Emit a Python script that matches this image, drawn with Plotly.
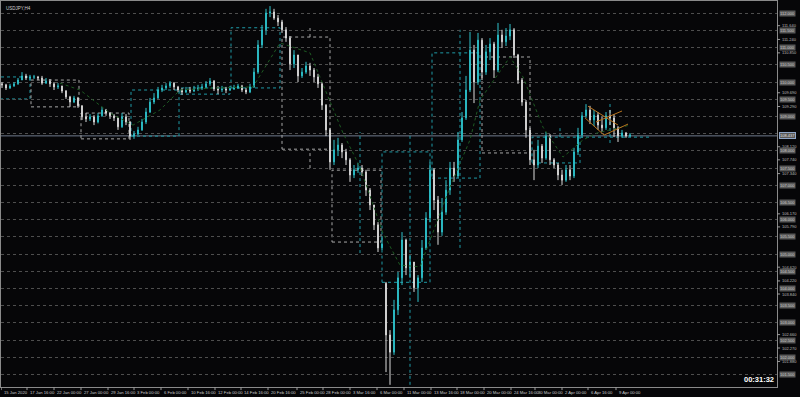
import plotly.graph_objects as go

# ---------------- data (USDJPY, H4) ----------------
first_open = 109.95
close = [109.92, 109.83, 109.89, 109.95, 110.06, 110.18, 110.12, 110.15, 110.15, 110.12,
         109.97, 110.03, 109.95, 109.86, 109.89, 109.74, 109.57, 109.42, 109.54, 109.31,
         108.99, 108.93, 108.99, 108.84, 109.02, 109.19, 109.10, 109.02, 108.96, 108.70,
         108.99, 108.84, 108.43, 108.49, 108.61, 108.84, 109.13, 109.42, 109.54, 109.77,
         109.83, 109.89, 109.97, 109.86, 109.77, 109.71, 109.77, 109.74, 109.80, 109.83,
         109.86, 109.95, 110.03, 109.80, 109.77, 109.80, 109.77, 109.80, 109.83, 109.89,
         109.77, 109.71, 109.86, 110.29, 111.08, 111.52, 112.01, 112.04, 111.86, 111.75,
         111.52, 111.28, 110.53, 110.79, 110.18, 110.29, 110.47, 110.35, 110.15, 109.95,
         109.33, 108.61, 107.68, 108.03, 108.17, 107.97, 107.74, 107.30, 107.45, 107.50,
         107.39, 106.86, 106.43, 105.85, 105.18, 105.29, 102.65, 102.15, 103.38, 104.31,
         105.41, 104.60, 104.77, 104.02, 104.31, 105.18, 106.05, 107.45, 106.57, 105.64,
         106.22, 106.86, 107.50, 107.27, 108.32, 108.96, 109.77, 110.93, 110.00, 111.22,
         110.29, 110.88, 111.11, 110.35, 111.37, 111.17, 111.34, 111.52, 110.79, 110.06,
         109.42, 108.61, 107.74, 107.59, 108.14, 107.79, 108.43, 107.74, 107.59, 107.30,
         107.15, 107.45, 107.27, 107.97, 108.46, 109.02, 109.19, 108.90, 109.04, 108.75,
         108.67, 109.02, 108.96, 108.67, 108.43, 108.52, 108.43, 108.46]
high = [110.00, 109.95, 109.95, 110.00, 110.12, 110.29, 110.24, 110.21, 110.21, 110.18,
        110.18, 110.12, 110.09, 110.00, 109.97, 109.89, 109.77, 109.60, 109.60, 109.57,
        109.33, 109.10, 109.07, 109.04, 109.10, 109.28, 109.22, 109.13, 109.07, 108.99,
        109.10, 109.07, 108.87, 108.58, 108.70, 108.93, 109.25, 109.54, 109.68, 109.86,
        109.92, 109.97, 110.03, 110.00, 109.89, 109.83, 109.86, 109.86, 109.89, 109.92,
        109.95, 110.03, 110.12, 110.06, 109.89, 109.89, 109.86, 109.89, 109.92, 109.95,
        109.92, 109.83, 109.95, 110.41, 111.22, 111.66, 112.13, 112.21, 112.13, 111.95,
        111.81, 111.60, 111.34, 110.93, 110.79, 110.41, 110.59, 110.56, 110.41, 110.24,
        110.00, 109.36, 108.67, 108.32, 108.38, 108.23, 108.06, 107.79, 107.59, 107.65,
        107.59, 107.45, 106.92, 106.43, 105.93, 105.53, 104.19, 102.79, 103.67, 104.48,
        105.64, 105.45, 104.97, 104.77, 104.39, 105.41, 106.22, 107.68, 107.50, 106.69,
        106.63, 107.15, 107.68, 107.68, 108.55, 109.13, 110.18, 111.46, 111.08, 111.43,
        111.28, 111.08, 111.28, 111.17, 111.72, 111.52, 111.57, 111.69, 111.57, 110.82,
        110.12, 109.48, 108.67, 108.03, 108.32, 108.20, 108.55, 108.49, 107.79, 107.65,
        107.45, 107.59, 107.59, 108.09, 108.67, 109.13, 109.36, 109.31, 109.19, 109.13,
        108.99, 109.13, 109.19, 109.07, 108.72, 108.61, 108.55, 108.52]
low = [109.83, 109.77, 109.80, 109.86, 109.92, 110.06, 110.06, 110.06, 110.09, 110.06,
       109.92, 109.95, 109.86, 109.77, 109.80, 109.68, 109.51, 109.28, 109.39, 109.25,
       108.90, 108.84, 108.87, 108.75, 108.80, 108.99, 109.02, 108.93, 108.87, 108.61,
       108.67, 108.75, 108.32, 108.35, 108.46, 108.58, 108.78, 109.10, 109.36, 109.51,
       109.71, 109.77, 109.83, 109.77, 109.71, 109.63, 109.68, 109.68, 109.71, 109.74,
       109.77, 109.83, 109.89, 109.74, 109.65, 109.71, 109.68, 109.74, 109.77, 109.80,
       109.71, 109.65, 109.68, 109.83, 110.24, 110.99, 111.37, 111.89, 111.81, 111.63,
       111.43, 111.17, 110.35, 110.41, 110.00, 110.12, 110.24, 110.18, 110.00, 109.83,
       109.19, 108.43, 107.45, 107.59, 107.85, 107.79, 107.59, 107.10, 107.21, 107.36,
       107.27, 106.69, 106.28, 105.70, 105.06, 105.12, 101.57, 101.20, 102.07, 103.23,
       104.10, 104.39, 104.31, 103.90, 103.61, 104.19, 105.12, 105.93, 106.28, 105.27,
       105.53, 106.14, 106.72, 107.10, 107.21, 108.26, 108.90, 109.71, 109.39, 109.92,
       110.06, 110.21, 110.64, 110.12, 110.29, 110.99, 111.05, 111.22, 110.70, 109.95,
       109.31, 108.38, 107.59, 107.15, 107.50, 107.65, 107.74, 107.59, 107.50, 107.15,
       107.01, 107.10, 107.15, 107.21, 107.88, 108.38, 108.96, 108.78, 108.72, 108.61,
       108.55, 108.61, 108.75, 108.40, 108.26, 108.38, 108.38, 108.40]
gap_opens = {96: 104.15}          # weekend gap (9 Mar)
bid_price = 108.437

# price scale labels
grid_levels = [112.0, 111.5, 111.0, 110.5, 110.0, 109.5, 109.0, 108.5, 108.0, 107.5, 107.0,
               106.5, 106.0, 105.5, 105.0, 104.5, 104.0, 103.5, 103.0, 102.5, 102.0, 101.5]
grid_boxed = [112.0, 111.5, 111.0, 110.5, 110.0, 109.5, 109.0, 108.0, 107.5, 107.0,
              106.5, 106.0, 105.5, 105.0, 104.5, 104.0, 103.5, 103.0, 102.5, 102.0, 101.5]
scale_ticks = [111.640, 111.240, 110.850, 109.690, 109.290, 108.120, 107.740, 107.340,
               106.170, 105.790, 104.620, 104.220, 103.840, 102.660, 102.270, 101.880]

# time scale labels (bar index where label starts)
time_pos = [-0.2, 6.25, 13, 19.75, 26.5, 33, 39.75, 46.5, 53.25, 59.75, 66.5, 73.75,
            80.25, 87, 93.75, 100.5, 107.25, 113.75, 120.5, 127.25, 133.25, 140, 146.5, 153.5]
time_labels = ["15 Jan 2020", "17 Jan 16:00", "22 Jan 00:00", "27 Jan 00:00", "29 Jan 16:00",
               "3 Feb 00:00", "6 Feb 00:00", "10 Feb 16:00", "12 Feb 00:00", "14 Feb 16:00",
               "20 Feb 16:00", "25 Feb 00:00", "28 Feb 00:00", "3 Mar 16:00", "6 Mar 00:00",
               "11 Mar 00:00", "13 Mar 16:00", "18 Mar 00:00", "20 Mar 00:00", "24 Mar 16:00",
               "30 Mar 00:00", "2 Apr 00:00", "6 Apr 16:00", "9 Apr 00:00"]

# weekly range boxes
box_x0 = [-0.5, 7.25, 19.75, 32.25, 44.5, 57.25, 70.0, 82.5, 95.0, 107.5, 120.0, 132.5]
box_x1 = [7.0, 19.25, 31.75, 44.25, 57.0, 69.5, 82.0, 94.75, 107.0, 119.5, 132.0, 144.5]
box_top = [110.15, 110.06, 109.10, 109.77, 109.83, 111.58, 111.31, 107.44, 107.97, 110.85, 110.73, 108.40]
box_bot = [109.51, 109.28, 108.35, 108.43, 109.65, 109.83, 108.05, 105.35, 104.18, 107.21, 107.94, 107.65]
box_kind = ["t", "w", "w", "t", "t", "t", "w", "w", "t", "t", "w", "t"]

# vertical dotted markers
vline_x = [89.5, 102, 114.5, 139.5, 152, 77, 77]
vline_top = [108.55, 108.46, 111.52, 108.69, 109.39, 111.60, 108.03]
vline_bot = [105.03, 101.20, 105.18, 108.40, 108.23, 111.31, 107.50]
vline_kind = ["t", "t", "t", "t", "t", "w", "w"]

# smoothed indicator (dark green dotted)
ind_x = [14.5, 19.5, 27, 32.75, 39.5, 44.5, 53.25, 62.75, 69.5, 77, 85.25, 89.5, 95.25,
         99.5, 104.5, 112, 117, 119.5, 127, 130.25, 135.25, 140.25, 145.25, 148.75, 157]
ind_y = [109.97, 109.77, 109.10, 108.75, 109.19, 109.77, 109.83, 109.86, 111.14, 110.85,
         108.52, 107.53, 105.61, 104.68, 104.63, 106.95, 108.32, 109.48, 110.73, 110.15,
         108.69, 107.82, 108.32, 108.52, 108.75]

# orange flag lines
flag_x0 = [146.5, 145.75, 150.5, 148.5]
flag_y0 = [109.30, 108.96, 108.46, 108.84]
flag_x1 = [154.0, 150.5, 156.5, 155.0]
flag_y1 = [108.75, 108.46, 108.78, 109.16]

# ---------------- build ----------------
opens = []
prev = first_open
for i, c in enumerate(close):
    opens.append(gap_opens.get(i, prev))
    prev = c
xs = list(range(len(close)))

BG = "#060608"
BULL = "#2ec3cc"
BEAR = "#dcdcdc"
TEAL = "#1f9aa6"
WHITE = "#a8a8a8"
FONT = "Liberation Sans"

fig = go.Figure()
fig.add_trace(go.Scatter(x=ind_x, y=ind_y, mode="lines",
                         line=dict(color="#1d5a22", width=1, dash="dot"),
                         hoverinfo="skip", showlegend=False))
fig.add_trace(go.Candlestick(
    x=xs, open=opens, high=high, low=low, close=close,
    increasing=dict(line=dict(color=BULL, width=1), fillcolor=BULL),
    decreasing=dict(line=dict(color=BEAR, width=1), fillcolor=BEAR),
    whiskerwidth=0, hoverinfo="skip", showlegend=False))

shapes = []
for x0, x1, t, b, k in zip(box_x0, box_x1, box_top, box_bot, box_kind):
    shapes.append(dict(type="rect", xref="x", yref="y", x0=x0, x1=x1, y0=b, y1=t,
                       line=dict(color=TEAL if k == "t" else WHITE, width=1, dash="dot"),
                       layer="below"))
for x, t, b, k in zip(vline_x, vline_top, vline_bot, vline_kind):
    shapes.append(dict(type="line", xref="x", yref="y", x0=x, x1=x, y0=b, y1=t,
                       line=dict(color=TEAL if k == "t" else WHITE, width=1, dash="dot"),
                       layer="below"))
for x0, y0, x1, y1 in zip(flag_x0, flag_y0, flag_x1, flag_y1):
    shapes.append(dict(type="line", xref="x", yref="y", x0=x0, x1=x1, y0=y0, y1=y1,
                       line=dict(color="#b8741e", width=1)))
shapes.append(dict(type="line", xref="x", yref="y", x0=144.5, x1=162, y0=108.40, y1=108.40,
                   line=dict(color=TEAL, width=1, dash="dot"), layer="below"))
# bid line
shapes.append(dict(type="line", xref="paper", yref="y", x0=0, x1=1, y0=bid_price, y1=bid_price,
                   line=dict(color="#6f7b8e", width=1), layer="below"))
# right scale tick marks
for v in scale_ticks:
    shapes.append(dict(type="line", xref="paper", yref="y", x0=1, x1=1.004, y0=v, y1=v,
                       line=dict(color="#9a9a9a", width=1)))
# bottom time tick marks
for p in time_pos:
    shapes.append(dict(type="line", xref="x", yref="paper", x0=p, x1=p, y0=0, y1=-0.008,
                       line=dict(color="#9a9a9a", width=1)))

ann = []
ann.append(dict(text="USDJPY,H4", xref="paper", yref="paper", x=0, y=1, xanchor="left",
                yanchor="top", xshift=3, yshift=-3, showarrow=False,
                font=dict(family=FONT, size=4.5, color="#d0d0d0")))
for v in scale_ticks:
    ann.append(dict(text=f"{v:.3f}", xref="paper", yref="y", x=1, y=v, xanchor="left",
                    yanchor="middle", xshift=3, showarrow=False,
                    font=dict(family=FONT, size=4.0, color="#bdbdbd")))
for v in grid_boxed:
    ann.append(dict(text=f"{v:.3f}", xref="paper", yref="y", x=1, y=v, xanchor="left",
                    yanchor="middle", xshift=2, showarrow=False, bgcolor="#585858",
                    borderpad=0, font=dict(family=FONT, size=4.0, color="#cfcfcf")))
ann.append(dict(text=f"{bid_price:.3f}", xref="paper", yref="y", x=1, y=bid_price,
                xanchor="left", yanchor="middle", xshift=2, showarrow=False,
                bgcolor="#585858", bordercolor="#8fa6c8", borderwidth=1, borderpad=0,
                font=dict(family=FONT, size=4.0, color="#e0e0e0")))
for p, t in zip(time_pos, time_labels):
    ann.append(dict(text=t, xref="x", yref="paper", x=p, y=0, xanchor="left",
                    yanchor="top", xshift=1, yshift=-1, showarrow=False,
                    font=dict(family=FONT, size=4.2, color="#c8c8c8")))
ann.append(dict(text="<b>00:31:32</b>", xref="paper", yref="paper", x=1, y=0,
                xanchor="right", yanchor="bottom", xshift=-1, yshift=1, showarrow=False,
                font=dict(family=FONT, size=7.5, color="#ffffff")))

fig.update_layout(
    width=800, height=397, autosize=False,
    margin=dict(l=1, r=23, t=1, b=10, pad=0),
    paper_bgcolor=BG, plot_bgcolor=BG,
    boxgap=0.72,
    shapes=shapes, annotations=ann, showlegend=False,
    xaxis=dict(range=[-0.25, 193.75], showgrid=False, zeroline=False,
               showticklabels=False, ticks="", rangeslider=dict(visible=False),
               showline=True, linecolor="#8a8a8a", linewidth=1, mirror=True,
               fixedrange=True),
    yaxis=dict(range=[101.1366, 112.3576], tickvals=grid_levels, showticklabels=False,
               ticks="", showgrid=True, gridcolor="#4e4e4e", griddash="dot", gridwidth=1,
               zeroline=False, showline=True, linecolor="#8a8a8a", linewidth=1,
               mirror=True, fixedrange=True),
)

fig.write_html("out.html")
